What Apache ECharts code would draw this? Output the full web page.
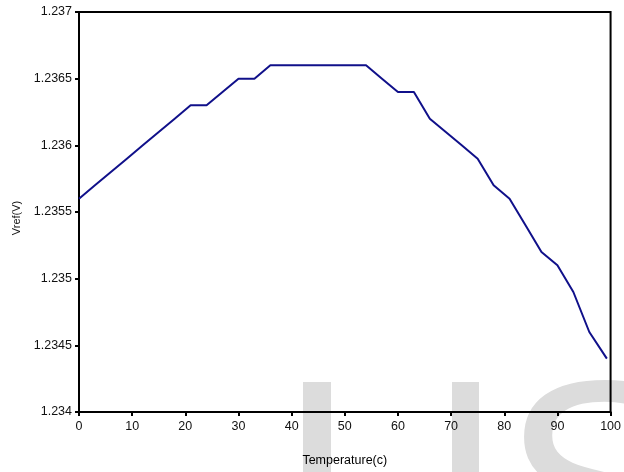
<!DOCTYPE html>
<html>
<head>
<meta charset="utf-8">
<script src="https://cdn.jsdelivr.net/npm/echarts@6/dist/echarts.min.js"></script>
<style>html,body{margin:0;padding:0;background:#fff}#c{width:624px;height:472px}</style>
</head>
<body>
<div id="c"></div>
<script>
var temperatures = [0, 3, 6, 9, 12, 15, 18, 21, 24, 27, 30, 33, 36, 39, 42, 45, 48, 51, 54, 57, 60, 63, 66, 69, 72, 75, 78, 81, 84, 87, 90, 93, 96, 99.3];
var vref = [1.2356, 1.2357, 1.2358, 1.2359, 1.2360, 1.2361, 1.2362, 1.2363, 1.2363, 1.2364, 1.2365, 1.2365, 1.2366, 1.2366, 1.2366, 1.2366, 1.2366, 1.2366, 1.2366, 1.2365, 1.2364, 1.2364, 1.2362, 1.2361, 1.2360, 1.2359, 1.2357, 1.2356, 1.2354, 1.2352, 1.2351, 1.2349, 1.2346, 1.2344];
var xTicks = [0, 100, 10];
var yTicks = [1.234, 1.237, 0.0005];

var chart = echarts.init(document.getElementById('c'), null, {renderer: 'canvas'});
var font = '"Liberation Sans", Arial, sans-serif';
chart.setOption({
  animation: false,
  backgroundColor: '#fff',
  grid: {left: 79, right: 11, top: 12, bottom: 59, show: true, borderColor: '#000', borderWidth: 2, backgroundColor: 'transparent', z: 3},
  graphic: [
    {type: 'rect', z: -10, shape: {x: 303, y: 382, width: 28, height: 100}, style: {fill: '#dcdcdc'}},
    {type: 'rect', z: -10, shape: {x: 452, y: 382, width: 27, height: 100}, style: {fill: '#dcdcdc'}},
    {type: 'text', z: -10, left: 500, top: 356, style: {text: 'S', font: '310px "Liberation Sans", Arial, sans-serif', fill: '#dcdcdc'}}
  ],
  xAxis: {
    type: 'value', min: xTicks[0], max: xTicks[1], interval: xTicks[2],
    name: 'Temperature(c)', nameLocation: 'middle', nameGap: 42,
    nameTextStyle: {fontFamily: font, fontSize: 12.5, color: '#000'},
    axisLine: {show: true, onZero: false, lineStyle: {color: '#000', width: 2}},
    axisTick: {show: true, length: 4, lineStyle: {color: '#000', width: 2}},
    axisLabel: {fontFamily: font, fontSize: 12.5, color: '#111', margin: 8},
    splitLine: {show: false}
  },
  yAxis: {
    type: 'value', min: yTicks[0], max: yTicks[1], interval: yTicks[2],
    name: 'Vref(V)', nameLocation: 'middle', nameGap: 56,
    nameTextStyle: {fontFamily: font, fontSize: 11, color: '#111', padding: [0, 12, 0, 0]},
    axisLine: {show: true, onZero: false, lineStyle: {color: '#000', width: 2}},
    axisTick: {show: true, length: 4, lineStyle: {color: '#000', width: 2}},
    axisLabel: {fontFamily: font, fontSize: 12.5, color: '#111', margin: 7,
      formatter: function (v) { return String(parseFloat(v.toFixed(4))); }},
    splitLine: {show: false}
  },
  series: [{
    type: 'line',
    data: temperatures.map(function (t, i) { return [t, vref[i]]; }),
    showSymbol: false, symbol: 'none',
    lineStyle: {color: '#10108a', width: 2},
    z: 5
  }]
});
</script>
</body>
</html>
